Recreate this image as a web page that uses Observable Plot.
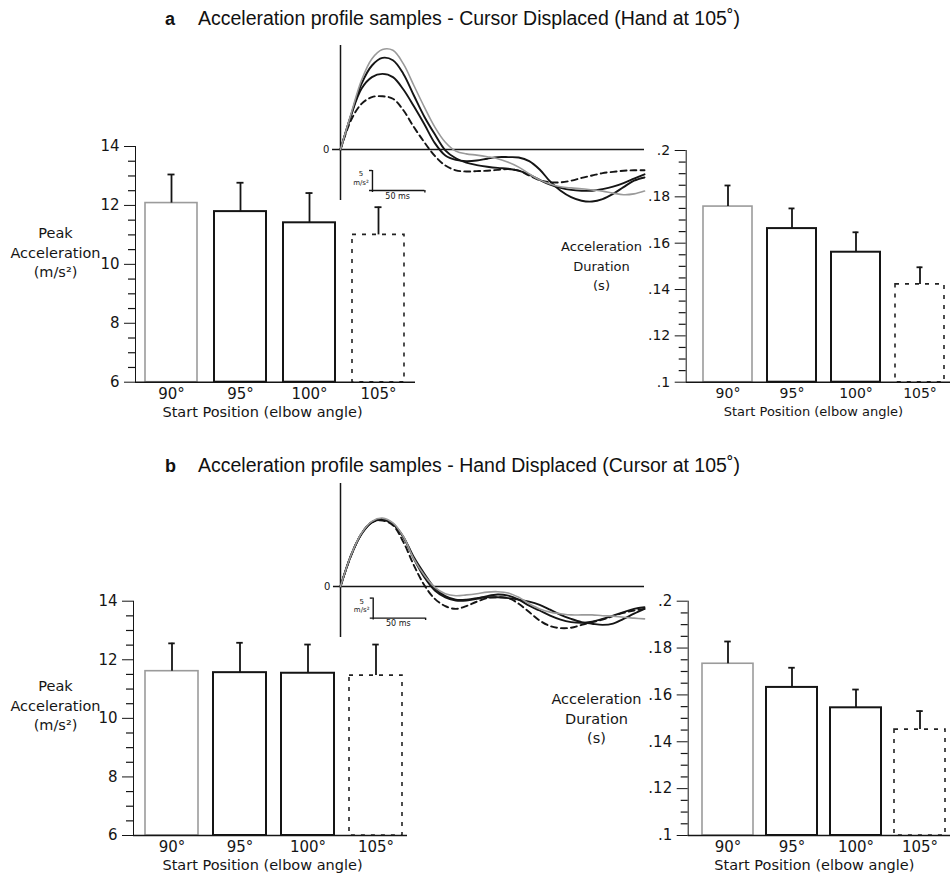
<!DOCTYPE html>
<html><head><meta charset="utf-8">
<script src="https://cdn.jsdelivr.net/npm/d3@7"></script>
<script src="https://cdn.jsdelivr.net/npm/@observablehq/plot@0.6"></script>
<style>
html,body{margin:0;padding:0;background:#fff;}
#root{position:relative;width:950px;height:880px;overflow:hidden;background:#fff;}
.title{position:absolute;left:165px;font-family:"Liberation Sans",Arial,sans-serif;font-size:19.5px;line-height:22px;color:#111;white-space:nowrap;}
.title b{display:inline-block;width:33px;font-weight:bold;font-size:18px;}
.panel{position:absolute;}
.panel svg{overflow:visible;}
</style></head><body><div id="root"></div>
<script>
// ---------- data ----------
const positions = ["90°", "95°", "100°", "105°"];
const xTitle = "Start Position (elbow angle)";
const peakLabel = "Peak\nAcceleration\n(m/s²)";
const durLabel = "Acceleration\nDuration\n(s)";

const peakTicks = [6, 8, 10, 12, 14];
const peakMinor = [6.5, 7, 7.5, 8.5, 9, 9.5, 10.5, 11, 11.5, 12.5, 13, 13.5];
const durTicks = [0.1, 0.12, 0.14, 0.16, 0.18, 0.2];
const durMinor = [0.105, 0.11, 0.115, 0.125, 0.13, 0.135, 0.145, 0.15, 0.155, 0.165, 0.17, 0.175, 0.185, 0.19, 0.195];

// panel a (cursor displaced)
const peakA = [12.08, 11.79, 11.41, 11.00];
const peakAErr = [0.97, 0.98, 1.01, 0.94];
const durA = [0.1758, 0.1663, 0.1561, 0.1422];
const durAErr = [0.0091, 0.0087, 0.0086, 0.0074];
// panel b (hand displaced)
const peakB = [11.61, 11.56, 11.54, 11.46];
const peakBErr = [0.95, 1.02, 0.98, 1.06];
const durB = [0.1733, 0.1632, 0.1545, 0.1452];
const durBErr = [0.0095, 0.0084, 0.0078, 0.0079];

// acceleration profile samples (ms, m/s^2)
const timeMs = [0,10,20,30,40,50,60,70,80,90,100,110,120,130,140,150,160,170,180,190,200,210,220,230,240,250,260,270,280,290];
const profA90  = [0,8.9,17.3,22.7,25.0,24.8,21.4,16.0,10.6,5.6,1.8,-0.4,-1.1,-1.4,-1.8,-2.3,-3.2,-4.4,-6.1,-7.6,-8.6,-9.3,-9.6,-9.8,-10.1,-10.4,-10.9,-11.3,-11.1,-10.4];
const profA95  = [0,8.5,16.4,21.0,22.9,22.3,18.9,13.5,8.2,3.8,-0.2,-2.2,-3.3,-3.9,-4.3,-4.6,-4.8,-5.3,-6.3,-7.6,-8.8,-9.6,-10.1,-10.3,-10.3,-9.9,-9.3,-8.4,-7.3,-6.2];
const profA100 = [0,8.5,15.2,18.1,18.9,18.1,15.0,10.8,6.3,1.6,-1.5,-2.6,-2.9,-2.75,-2.3,-1.9,-1.9,-2.0,-2.9,-5.0,-8.0,-10.3,-11.9,-12.8,-13.0,-12.4,-11.1,-9.4,-7.8,-7.0];
const profA105 = [0,7.3,11.4,13.1,13.3,12.7,9.8,5.6,1.8,-1.6,-4.0,-5.2,-5.5,-5.4,-5.3,-5.1,-4.9,-5.3,-6.5,-7.7,-8.2,-8.2,-7.8,-7.1,-6.5,-5.9,-5.6,-5.3,-5.2,-5.2];
const profB90  = [0,7.8,13.3,16.3,17.1,15.9,12.5,6.9,2.8,-0.2,-1.8,-2.3,-2.1,-1.8,-1.4,-1.3,-1.6,-2.7,-4.3,-5.6,-6.4,-6.8,-7.1,-7.1,-7.1,-7.3,-7.4,-7.7,-7.9,-8.1];
const profB95  = [0,7.7,13.2,16.1,16.9,15.7,12.3,6.9,2.3,-1.0,-2.7,-3.5,-3.5,-3.1,-2.4,-2.0,-2.3,-3.3,-4.8,-6.0,-7.3,-8.3,-8.9,-9.1,-8.8,-8.1,-7.3,-6.4,-5.6,-5.2];
const profB100 = [0,7.8,13.1,16.0,16.7,15.6,12.4,7.3,3.2,-0.4,-2.4,-3.3,-3.3,-2.9,-2.7,-2.7,-2.9,-3.3,-3.8,-4.6,-5.8,-7.1,-8.1,-8.9,-9.3,-9.6,-9.3,-8.1,-6.8,-5.6];
const profB105 = [0,7.7,13.2,16.1,16.5,15.3,11.1,5.3,0.3,-3.1,-4.9,-5.6,-4.9,-3.8,-2.9,-2.7,-2.9,-4.3,-6.4,-8.5,-9.9,-10.4,-10.3,-9.6,-8.9,-8.3,-7.4,-6.6,-6.0,-5.6];

// ---------- styles ----------
const barStyle = {
  "90°": {stroke: "#9b9b9b", width: 1.6},
  "95°": {stroke: "#151515", width: 2},
  "100°": {stroke: "#151515", width: 2},
  "105°": {stroke: "#222", width: 1.6, dash: "4,6"}
};
const lineStyle = {
  "90°": {stroke: "#9a9a9a", width: 1.6},
  "95°": {stroke: "#151515", width: 1.9},
  "100°": {stroke: "#151515", width: 1.9},
  "105°": {stroke: "#151515", width: 1.9, dash: "6,4"}
};
const durFmt = d => String(d).replace(/^0/, "");

const root = document.getElementById("root");
function place(node, left, top) {
  const div = document.createElement("div");
  div.className = "panel";
  div.style.left = left + "px";
  div.style.top = top + "px";
  div.appendChild(node);
  root.appendChild(div);
}
function title(letter, text, top) {
  const div = document.createElement("div");
  div.className = "title";
  div.style.top = top + "px";
  div.innerHTML = "<b>" + letter + "</b>" + text;
  root.appendChild(div);
}

function barPanel(o) {
  const data = positions.map((c, i) => ({cat: c, v: o.values[i], e: o.errs[i]}));
  const [r0, r1] = o.xRange;
  const n = positions.length;
  const step = (r1 - r0) / (n - o.pad);
  const bw = step * (1 - o.pad);
  const capInset = (bw - 7) / 2;
  const frameW = o.width - o.ml - o.mr;
  const marks = [];
  for (const c of positions) {
    const s = barStyle[c];
    marks.push(Plot.barY(data.filter(d => d.cat === c), {
      x: "cat", y1: o.yDomain[0], y2: "v", fill: "white",
      stroke: s.stroke, strokeWidth: s.width, strokeDasharray: s.dash
    }));
  }
  marks.push(Plot.ruleX(data, {x: "cat", y1: "v", y2: d => d.v + d.e, stroke: "#151515", strokeWidth: 1.8}));
  marks.push(Plot.tickY(data, {x: "cat", y: d => d.v + d.e, insetLeft: capInset, insetRight: capInset, stroke: "#151515", strokeWidth: 1.8}));
  marks.push(Plot.ruleY(o.minor, {insetRight: frameW - 7, dx: -7, stroke: "#151515", strokeWidth: 1.2}));
  marks.push(Plot.ruleY([o.yDomain[0]], {stroke: "#151515", strokeWidth: 1.5}));
  marks.push(Plot.text([o.yLabel], {frameAnchor: "left", dx: o.ylDx, dy: o.ylDy, textAnchor: "middle", lineHeight: o.lh, fill: "#151515", fontSize: o.fontSize}));
  marks.push(Plot.text([xTitle], {frameAnchor: "bottom", dx: o.xtDx, dy: o.xtDy, fill: "#151515", fontSize: o.fontSize}));
  const svg = Plot.plot({
    width: o.width, height: o.height,
    marginLeft: o.ml, marginRight: o.mr, marginTop: o.mt, marginBottom: o.mb,
    x: {type: "band", domain: positions, range: o.xRange, paddingInner: o.pad, paddingOuter: 0, tickSize: 0, tickPadding: 6, label: null},
    y: {domain: o.yDomain, ticks: o.yTicks, tickFormat: o.fmt, tickSize: 11, tickPadding: 5, line: true, label: null},
    style: {fontFamily: '"DejaVu Sans", sans-serif', fontSize: o.tickSize + "px", background: "transparent", overflow: "visible", color: "#151515"},
    marks
  });
  svg.querySelectorAll('[aria-label*="axis"] text').forEach(t => {
    t.style.fontSize = o.tickSize + "px";
    t.style.fontFamily = '"DejaVu Sans", sans-serif';
  });
  place(svg, o.left, o.top);
}

function insetPanel(o) {
  const series = [["105°", o.p105], ["100°", o.p100], ["95°", o.p95], ["90°", o.p90]];
  const marks = [];
  marks.push(Plot.ruleY([0], {x1: o.zeroStart, x2: 290, stroke: "#151515", strokeWidth: 1.5}));
  marks.push(Plot.ruleX([0], {stroke: "#151515", strokeWidth: 1.5}));
  for (const [c, vals] of series) {
    const s = lineStyle[c];
    const pts = timeMs.map((t, i) => ({t, a: vals[i]}));
    marks.push(Plot.line(pts, {x: "t", y: "a", curve: "catmull-rom", stroke: s.stroke, strokeWidth: s.width, strokeDasharray: s.dash}));
  }
  // scale bars: 50 ms and 5 m/s^2
  const sbT = o.sbT, sbA = o.sbA;
  marks.push(Plot.ruleX([sbT], {y1: sbA - 0.5, y2: sbA + 5, stroke: "#151515", strokeWidth: 1.4}));
  marks.push(Plot.ruleY([sbA + 5], {x1: sbT - 2.8, x2: sbT, stroke: "#151515", strokeWidth: 1.4}));
  marks.push(Plot.ruleY([sbA], {x1: sbT - 2.8, x2: sbT + 50, stroke: "#151515", strokeWidth: 1.4}));
  marks.push(Plot.ruleX([sbT + 50], {y1: sbA - 0.6, y2: sbA, stroke: "#151515", strokeWidth: 1.4}));
  marks.push(Plot.text(["0"], {x: o.zeroStart - 6, y: 0, fontSize: 10, fill: "#151515"}));
  marks.push(Plot.text(["5"], {x: sbT - 11, y: sbA + 4.2, fontSize: 7, fill: "#151515"}));
  marks.push(Plot.text(["m/s²"], {x: sbT - 11, y: sbA + 2, fontSize: 7, fill: "#151515"}));
  marks.push(Plot.text(["50 ms"], {x: sbT + 24, y: sbA - 1.4, fontSize: 8, fill: "#151515"}));
  const svg = Plot.plot({
    width: 350, height: o.height,
    marginLeft: 40, marginRight: 6, marginTop: 5, marginBottom: 5,
    x: {domain: [0, 290], axis: null},
    y: {domain: o.yDomain, axis: null},
    style: {fontFamily: '"DejaVu Sans", sans-serif', background: "transparent", overflow: "visible"},
    marks
  });
  place(svg, 300, o.top);
}

// ---------- panel a ----------
title("a", "Acceleration profile samples - Cursor Displaced (Hand at 105˚)", 7);
insetPanel({top: 40, height: 165, yDomain: [-12.75, 26], zeroStart: -7.6, sbT: 30.5, sbA: -10.25,
  p90: profA90, p95: profA95, p100: profA100, p105: profA105});
barPanel({left: 0, top: 120, width: 425, height: 310, ml: 135, mr: 10, mt: 26, mb: 48.3,
  xRange: [144, 403.9], pad: 0.25, yDomain: [6, 14], yTicks: peakTicks, minor: peakMinor, fmt: d => String(d),
  values: peakA, errs: peakAErr, yLabel: peakLabel, ylDx: -80, ylDy: -13, lh: 1.35, xtDx: -13, xtDy: 35, fontSize: 14.5, tickSize: 15});
barPanel({left: 540, top: 120, width: 410, height: 310, ml: 145.7, mr: 0, mt: 30, mb: 48.3,
  xRange: [161.7, 406.1], pad: 0.228, yDomain: [0.1, 0.2], yTicks: durTicks, minor: durMinor, fmt: durFmt,
  values: durA, errs: durAErr, yLabel: durLabel, ylDx: -84.7, ylDy: -2, lh: 1.5, xtDx: -5, xtDy: 34, fontSize: 13, tickSize: 14});

// ---------- panel b ----------
title("b", "Acceleration profile samples - Hand Displaced (Cursor at 105˚)", 454);
insetPanel({top: 478, height: 164, yDomain: [-12.75, 25.75], zeroStart: -6.7, sbT: 31.2, sbA: -7.9,
  p90: profB90, p95: profB95, p100: profB100, p105: profB105});
barPanel({left: 0, top: 575, width: 420, height: 305, ml: 133, mr: 13, mt: 25.7, mb: 45,
  xRange: [144, 402.5], pad: 0.217, yDomain: [6, 14], yTicks: peakTicks, minor: peakMinor, fmt: d => String(d),
  values: peakB, errs: peakBErr, yLabel: peakLabel, ylDx: -78, ylDy: -14, lh: 1.35, xtDx: -8, xtDy: 34, fontSize: 14.5, tickSize: 15});
barPanel({left: 540, top: 575, width: 410, height: 305, ml: 147.7, mr: 0, mt: 25.7, mb: 45,
  xRange: [161, 406.5], pad: 0.204, yDomain: [0.1, 0.2], yTicks: durTicks, minor: durMinor, fmt: durFmt,
  values: durB, errs: durBErr, yLabel: durLabel, ylDx: -91.7, ylDy: -1, lh: 1.35, xtDx: -5, xtDy: 34, fontSize: 14.5, tickSize: 15});
</script></body></html>
